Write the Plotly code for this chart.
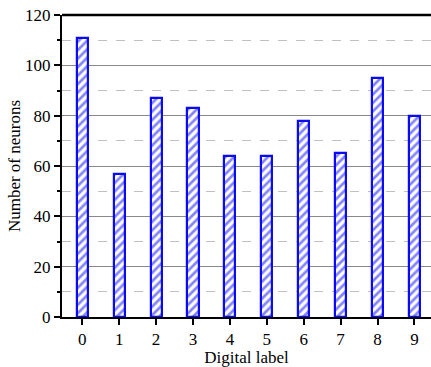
import plotly.graph_objects as go

labels = [0, 1, 2, 3, 4, 5, 6, 7, 8, 9]
neurons = [111, 57, 87, 83, 64, 64, 78, 65, 95, 80]

fig = go.Figure()
fig.add_trace(go.Bar(
    x=labels, y=neurons, width=0.30,
    marker=dict(color="white", line=dict(color="#0a0af5", width=2.2),
                pattern=dict(shape="/", fgcolor="#0a0af5", bgcolor="white", size=6, solidity=0.45)),
))
font = dict(family="Liberation Serif, Times New Roman, serif", size=17, color="black")
fig.update_layout(
    width=431, height=367, margin=dict(l=62, r=0, t=15, b=50),
    plot_bgcolor="white", paper_bgcolor="white", font=font, showlegend=False,
    bargap=0,
)
fig.update_xaxes(range=[-0.55, 9.45], tickmode="array", tickvals=labels, ticktext=[str(v) for v in labels],
                 showline=True, linecolor="black", linewidth=2, ticks="outside", ticklen=6, tickwidth=2,
                 tickcolor="black", showgrid=False, zeroline=False, tickfont=font,
                 title=dict(text="Digital label", font=font, standoff=0))
fig.update_yaxes(range=[0, 120], dtick=20, showline=True, linecolor="black", linewidth=2,
                 ticks="outside", ticklen=6, tickwidth=2, tickcolor="black", tickfont=font,
                 showgrid=True, gridcolor="#888888", gridwidth=1, zeroline=False,
                 minor=dict(dtick=10, ticks="outside", ticklen=3, tickwidth=1.5, tickcolor="black",
                            showgrid=True, gridcolor="#c0c0c0", griddash="dash", gridwidth=1),
                 title=dict(text="Number of neurons", font=font, standoff=0))
fig.add_shape(type="line", xref="paper", yref="paper", x0=0, x1=1, y0=1, y1=1,
              line=dict(color="black", width=2.5))
fig.write_html("out.html")
